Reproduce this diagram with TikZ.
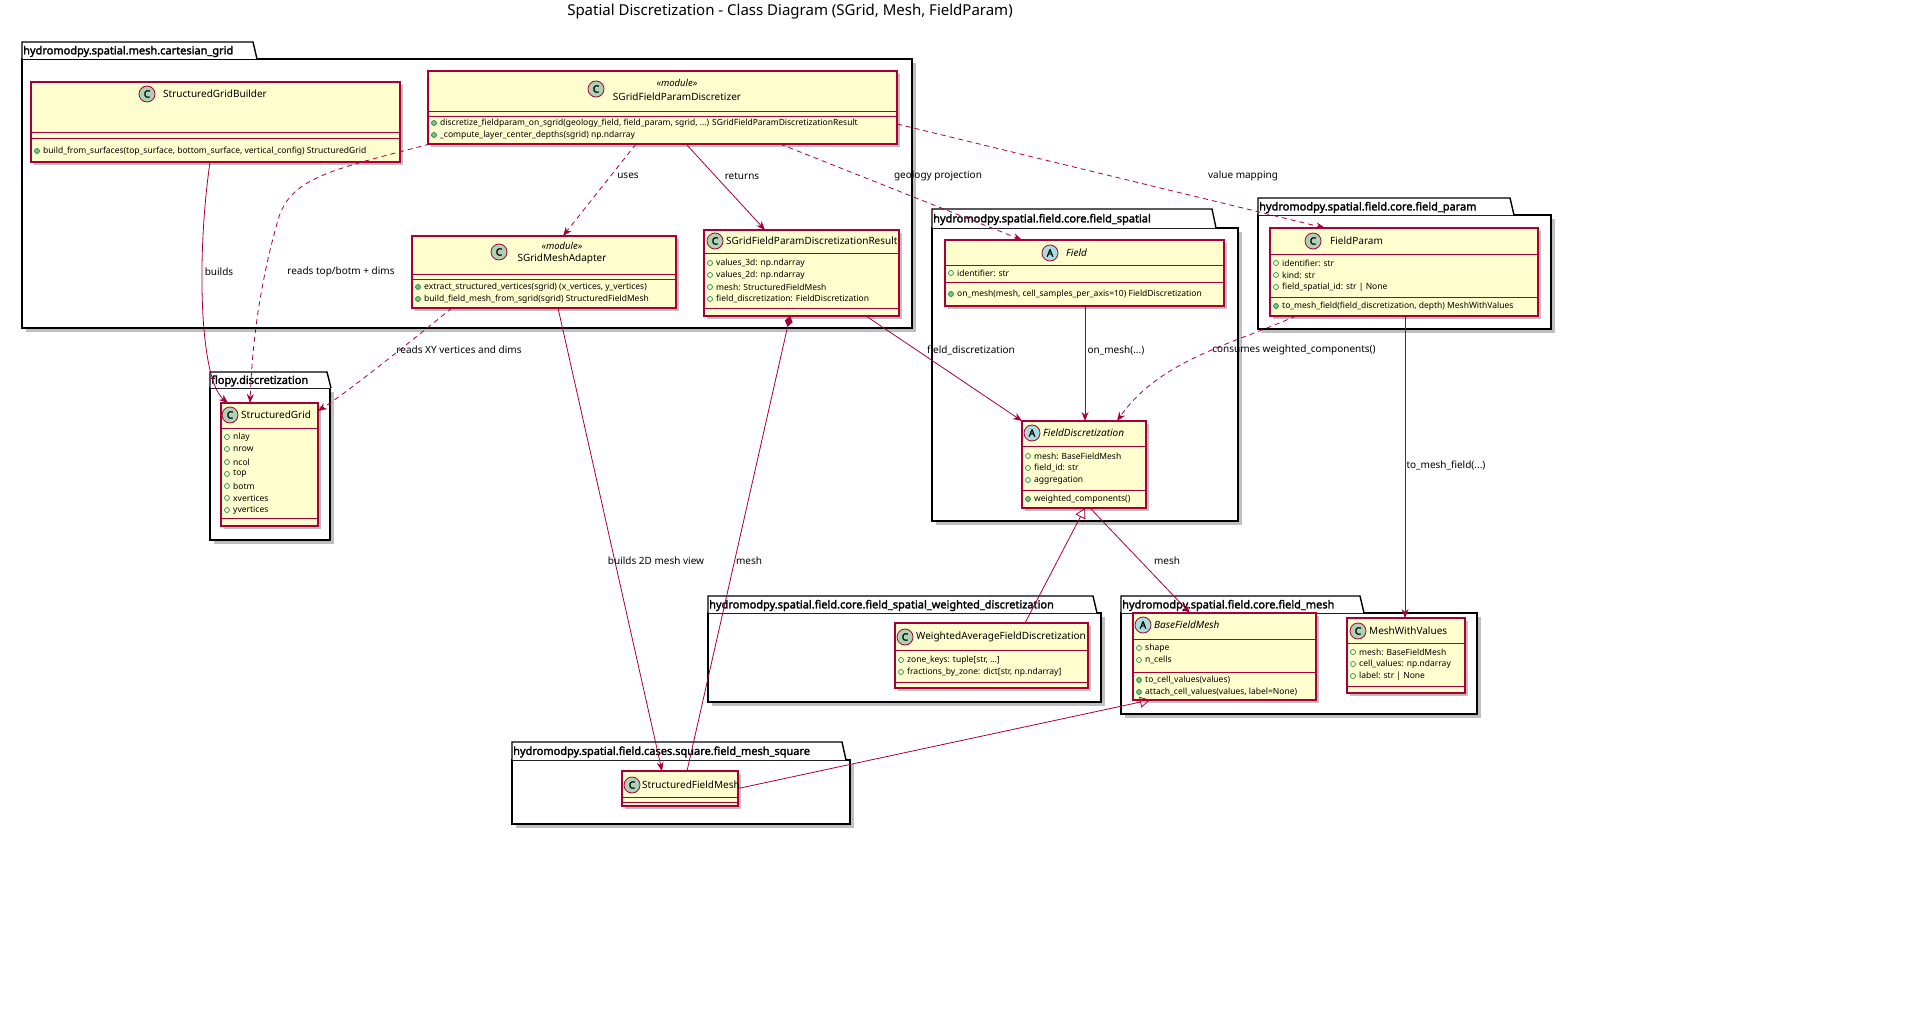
\documentclass[tikz,border=0pt]{standalone}
\usepackage{fontspec}
\setmainfont{Noto Sans}
\newfontfamily\bfake{Noto Sans}[FakeBold=2.2]
\usetikzlibrary{arrows.meta,calc}
\definecolor{bcol}{HTML}{A80036}
\definecolor{cfill}{HTML}{FEFECE}
\definecolor{ccirc}{HTML}{ADD1B2}
\definecolor{acirc}{HTML}{A9DCDF}
\definecolor{mgreen}{HTML}{84BE84}
\definecolor{fgreen}{HTML}{038048}
\tikzset{
  cls/.style={draw=bcol,fill=cfill,line width=1.1pt,rectangle,inner sep=0,outer sep=0},
  shad/.style={fill=black,opacity=0.25},
  sep/.style={draw=bcol,line width=1pt},
  pkg/.style={draw=black,line width=1.4pt,fill=white,inner sep=0,outer sep=0,rectangle},
  pkgl/.style={font=\fontsize{11}{13}\bfake\selectfont,anchor=west,inner sep=1pt},
  ic/.style={circle,draw=bcol,line width=0.8pt,minimum size=16pt,inner sep=0,font=\fontsize{10}{11}\bfake\selectfont},
  cn/.style={font=\fontsize{10}{12}\selectfont,anchor=west,inner sep=0},
  st/.style={font=\fontsize{9.5}{11}\selectfont\itshape,inner sep=0},
  mem/.style={font=\fontsize{8.5}{10}\selectfont,anchor=west,inner sep=0},
  fm/.style={circle,draw=fgreen,line width=0.6pt,minimum size=5pt,inner sep=0},
  mm/.style={circle,draw=fgreen,fill=mgreen,line width=0.6pt,minimum size=5pt,inner sep=0},
  lab/.style={font=\fontsize{10}{12}\selectfont,inner sep=1pt},
  ed/.style={draw=bcol,line width=0.8pt,-{Stealth[length=9pt,width=7pt]}},
  dsh/.style={ed,dash pattern=on 5pt off 4pt},
  inh/.style={draw=bcol,line width=0.8pt,-{Triangle[open,length=10pt,width=11pt]}},
}
\newcommand\cbox[5]{%
  \fill[shad] (#2+3,#3+3) rectangle (#4+3,#5+3);
  \node[cls,minimum width={(#4-#2)*1pt},minimum height={(#5-#3)*1pt}] (#1) at ({(#2+#4)/2},{(#3+#5)/2}) {};}
\newcommand\hsep[3]{\draw[sep] (#1,#3) -- (#2,#3);}
\newcommand\fld[3]{\node[fm] at (#1+6,#2) {}; \node[mem] at (#1+12,#2) {#3};}
\newcommand\mth[3]{\node[mm] at (#1+6,#2) {}; \node[mem] at (#1+12,#2) {#3};}
\newcommand\pkgbox[8]{% name,label,x1,ytab,xtab,ybody,x2,y2
  \fill[shad] (#3+4,#6+4) rectangle (#7+4,#8+4);
  \node[pkg,minimum width={(#7-#3)*1pt},minimum height={(#8-#6)*1pt}] (#1) at ({(#3+#7)/2},{(#6+#8)/2}) {};
  \draw[line width=1.4pt,fill=white] (#3,#6) -- (#3,#4) -- (#5,#4) -- (#5+4,#6);
  \node[pkgl] (#1l) at (#3,{(#4+#6)/2+1}) {#2};}
\begin{document}
\begin{tikzpicture}[x=1pt,y=-1pt]
\useasboundingbox (0,0) rectangle (1918,1019);
\node[font=\fontsize{15}{18}\selectfont] (title) at (790,12) {Spatial Discretization - Class Diagram (SGrid, Mesh, FieldParam)};

% packages
\pkgbox{pcart}{hydromodpy.spatial.mesh.cartesian\_grid}{22}{42}{253}{59}{912}{328}
\pkgbox{pflopy}{flopy.discretization}{210}{372}{327}{388}{330}{540}
\pkgbox{pspat}{hydromodpy.spatial.field.core.field\_spatial}{932}{209}{1212}{228}{1238}{521}
\pkgbox{pparam}{hydromodpy.spatial.field.core.field\_param}{1258}{198}{1510}{215}{1551}{329}
\pkgbox{pweight}{hydromodpy.spatial.field.core.field\_spatial\_weighted\_discretization}{708}{596}{1093}{613}{1101}{702}
\pkgbox{pmesh}{hydromodpy.spatial.field.core.field\_mesh}{1121}{596}{1360}{613}{1477}{714}
\pkgbox{psq}{hydromodpy.spatial.field.cases.square.field\_mesh\_square}{512}{742}{842}{760}{850}{824}

% StructuredGridBuilder
\cbox{sgb}{31}{82}{400}{162}
\node[ic,fill=ccirc] (sgbi) at (147,94) {C};
\node[cn] (sgbn) at (163,94) {StructuredGridBuilder};
\hsep{31}{400}{133}\hsep{31}{400}{139}
\mth{31}{151}{build\_from\_surfaces(top\_surface, bottom\_surface, vertical\_config) StructuredGrid}

% SGridFieldParamDiscretizer
\cbox{sfd}{428}{71}{897}{144}
\node[ic,fill=ccirc] (sfdi) at (596,89) {C};
\node[st] (sfds) at (677,83) {«module»};
\node[cn,anchor=center] (sfdn) at (677,97) {SGridFieldParamDiscretizer};
\hsep{428}{897}{112}\hsep{428}{897}{117}
\mth{428}{123}{discretize\_fieldparam\_on\_sgrid(geology\_field, field\_param, sgrid, ...) SGridFieldParamDiscretizationResult}
\mth{428}{135}{\_compute\_layer\_center\_depths(sgrid) np.ndarray}

% SGridMeshAdapter
\cbox{sma}{412}{236}{676}{308}
\node[ic,fill=ccirc] (smai) at (499,252) {C};
\node[st] (smas) at (562,246) {«module»};
\node[cn,anchor=center] (sman) at (562,259) {SGridMeshAdapter};
\hsep{412}{676}{274}\hsep{412}{676}{279}
\mth{412}{287}{extract\_structured\_vertices(sgrid) (x\_vertices, y\_vertices)}
\mth{412}{299}{build\_field\_mesh\_from\_sgrid(sgrid) StructuredFieldMesh}

% Result
\cbox{sfr}{704}{230}{899}{316}
\node[ic,fill=ccirc] (sfri) at (715,241) {C};
\node[cn] (sfrn) at (726,241) {SGridFieldParamDiscretizationResult};
\hsep{704}{899}{253}\hsep{704}{899}{308}
\fld{704}{263}{values\_3d: np.ndarray}
\fld{704}{275}{values\_2d: np.ndarray}
\fld{704}{287}{mesh: StructuredFieldMesh}
\fld{704}{299}{field\_discretization: FieldDiscretization}

% StructuredGrid
\cbox{sg}{221}{403}{318}{526}
\node[ic,fill=ccirc] (sgi) at (230,415) {C};
\node[cn] (sgn) at (241,415) {StructuredGrid};
\hsep{221}{318}{428}\hsep{221}{318}{518}
\fld{221}{437}{nlay}
\fld{221}{449}{nrow}
\fld{221}{462}{ncol}
\fld{221}{474}{top}
\fld{221}{486}{botm}
\fld{221}{498}{xvertices}
\fld{221}{510}{yvertices}

% Field
\cbox{fld}{945}{240}{1224}{306}
\node[ic,fill=acirc] (fldi) at (1050,253) {A};
\node[cn,font=\fontsize{10}{12}\selectfont\itshape] (fldn) at (1066,253) {Field};
\hsep{945}{1224}{265}\hsep{945}{1224}{282}
\fld{945}{273}{identifier: str}
\mth{945}{294}{on\_mesh(mesh, cell\_samples\_per\_axis=10) FieldDiscretization}

% FieldDiscretization
\cbox{fd}{1022}{421}{1146}{508}
\node[ic,fill=acirc] (fdi) at (1032,433) {A};
\node[cn,font=\fontsize{10}{12}\selectfont\itshape] (fdn) at (1043,433) {FieldDiscretization};
\hsep{1022}{1146}{446}\hsep{1022}{1146}{490}
\fld{1022}{456}{mesh: BaseFieldMesh}
\fld{1022}{468}{field\_id: str}
\fld{1022}{480}{aggregation}
\mth{1022}{499}{weighted\_components()}

% FieldParam
\cbox{fp}{1270}{228}{1538}{316}
\node[ic,fill=ccirc] (fpi) at (1313,241) {C};
\node[cn] (fpn) at (1330,241) {FieldParam};
\hsep{1270}{1538}{254}\hsep{1270}{1538}{297}
\fld{1270}{263}{identifier: str}
\fld{1270}{275}{kind: str}
\fld{1270}{287}{field\_spatial\_id: str | None}
\mth{1270}{306}{to\_mesh\_field(field\_discretization, depth) MeshWithValues}

% WeightedAverageFieldDiscretization
\cbox{wafd}{895}{623}{1088}{688}
\node[ic,fill=ccirc] (wafdi) at (905,637) {C};
\node[cn] (wafdn) at (916,637) {WeightedAverageFieldDiscretization};
\hsep{895}{1088}{650}\hsep{895}{1088}{682}
\fld{895}{660}{zone\_keys: tuple[str, ...]}
\fld{895}{672}{fractions\_by\_zone: dict[str, np.ndarray]}

% BaseFieldMesh
\cbox{bfm}{1133}{613}{1316}{700}
\node[ic,fill=acirc] (bfmi) at (1143,625) {A};
\node[cn,font=\fontsize{10}{12}\selectfont\itshape] (bfmn) at (1154,625) {BaseFieldMesh};
\hsep{1133}{1316}{639}\hsep{1133}{1316}{672}
\fld{1133}{648}{shape}
\fld{1133}{660}{n\_cells}
\mth{1133}{680}{to\_cell\_values(values)}
\mth{1133}{692}{attach\_cell\_values(values, label=None)}

% MeshWithValues
\cbox{mwv}{1347}{618}{1465}{693}
\node[ic,fill=ccirc] (mwvi) at (1358,631) {C};
\node[cn] (mwvn) at (1369,631) {MeshWithValues};
\hsep{1347}{1465}{643}\hsep{1347}{1465}{686}
\fld{1347}{652}{mesh: BaseFieldMesh}
\fld{1347}{664}{cell\_values: np.ndarray}
\fld{1347}{676}{label: str | None}

% StructuredFieldMesh
\cbox{sfm}{622}{771}{738}{806}
\node[ic,fill=ccirc] (sfmi) at (632,785) {C};
\node[cn] (sfmn) at (642,785) {StructuredFieldMesh};
\hsep{622}{738}{797}\hsep{622}{738}{802}

% edges
\draw[ed] ($(sgb.south west)+(179,0)$) .. controls (196,260) and (200,380) .. ($(sg.north west)+(7,0)$);
\node[lab] (l1) at (219,272) {builds};
\draw[dsh] ($(sfd.south west)+(2,0)$) .. controls (330,170) and (290,178) .. (278,220) .. controls (258,290) and (252,350) .. ($(sg.north west)+(29,0)$);
\node[lab] (l2) at (341,272) {reads top/botm + dims};
\draw[dsh] ($(sfd.south west)+(208,0)$) -- ($(sma.north west)+(151,0)$);
\node[lab] (l3) at (628,176) {uses};
\draw[ed] ($(sfd.south west)+(258,0)$) -- ($(sfr.north west)+(61,0)$);
\node[lab] (l4) at (742,176) {returns};
\draw[dsh] ($(sfd.south west)+(352,0)$) -- ($(fld.north west)+(77,0)$);
\node[lab] (l5) at (938,176) {geology projection};
\draw[dsh] ($(sfd.north east)+(0,53)$) -- ($(fp.north west)+(55,0)$);
\node[lab] (l6) at (1243,176) {value mapping};
\draw[dsh] ($(sma.south west)+(40,0)$) .. controls (400,350) and (350,390) .. ($(sg.north east)+(0,8)$);
\node[lab] (l7) at (459,350) {reads XY vertices and dims};
\draw[ed] ($(sma.south west)+(146,0)$) -- ($(sfm.north west)+(40,0)$);
\node[lab] (l8) at (656,561) {builds 2D mesh view};
\draw[bcol,line width=0.8pt,{Diamond[length=11pt,width=8pt]}-] ($(sfr.south west)+(86,0)$) -- ($(sfm.north west)+(65,0)$);
\node[lab] (l9) at (749,561) {mesh};
\draw[ed] ($(sfr.south west)+(162,0)$) -- (fd.north west);
\node[lab] (l10) at (971,350) {field\_discretization};
\draw[ed] ($(fld.south west)+(140,0)$) -- ($(fd.north west)+(63,0)$);
\node[lab] (l11) at (1116,350) {on\_mesh(...)};
\draw[dsh] ($(fp.south west)+(26,0)$) .. controls (1230,345) and (1160,360) .. ($(fd.north west)+(95,0)$);
\node[lab] (l12) at (1294,350) {consumes weighted\_components()};
\draw[ed] ($(fp.south west)+(135,0)$) -- ($(mwv.north west)+(58,0)$);
\node[lab] (l13) at (1446,465) {to\_mesh\_field(...)};
\draw[ed] ($(fd.south west)+(68,0)$) -- ($(bfm.north west)+(57,0)$);
\node[lab] (l14) at (1167,561) {mesh};
\draw[inh] ($(wafd.north west)+(130,0)$) -- ($(fd.south west)+(63,0)$);
\draw[inh] (sfm.east) -- ($(bfm.south west)+(17,0)$);
\end{tikzpicture}
\end{document}
